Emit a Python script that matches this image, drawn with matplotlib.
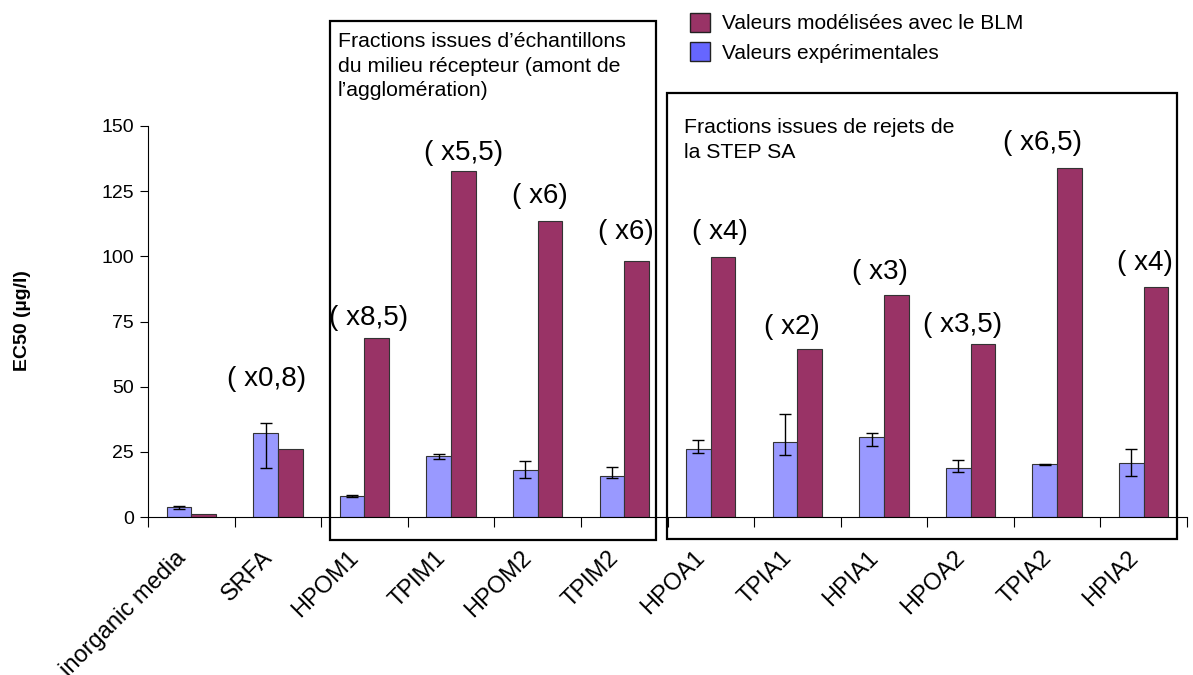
import matplotlib
matplotlib.use('Agg')
import matplotlib.pyplot as plt
from matplotlib.patches import Patch, Rectangle
from matplotlib.transforms import ScaledTranslation
import numpy as np

plt.rcParams['font.family'] = ['Liberation Sans', 'DejaVu Sans']

# data
categories = ['inorganic media', 'SRFA', 'HPOM1', 'TPIM1', 'HPOM2', 'TPIM2',
              'HPOA1', 'TPIA1', 'HPIA1', 'HPOA2', 'TPIA2', 'HPIA2']
experimental = [3.7, 32.1, 8.1, 23.3, 18.1, 15.9, 26.0, 28.6, 30.7, 18.7, 20.3, 20.8]
err_low = [0.7, 13.4, 0.3, 1.0, 3.0, 1.0, 1.3, 4.8, 3.3, 1.3, 0.2, 5.2]
err_high = [0.5, 3.9, 0.3, 0.7, 3.4, 3.1, 3.4, 10.8, 1.4, 3.3, 0.2, 5.2]
modelled = [1.1, 26.0, 68.5, 132.9, 113.7, 98.2, 99.6, 64.6, 85.3, 66.2, 133.9, 88.1]
ratio_labels = ['', '( x0,8)', '( x8,5)', '( x5,5)', '( x6)', '( x6)',
                '( x4)', '( x2)', '( x3)', '( x3,5)', '( x6,5)', '( x4)']

# label offsets in pixels (x from category centre, y above modelled bar)
label_dx = [0, -11, 4, 13, 2, 2, 9, -5, -4, -8, -15, 1]
label_dy = [0, 70, 20, 18, 25, 29, 25, 22, 23, 19, 25, 24]

blue = '#9999ff'
red = '#993366'
W, H = 1193, 675

fig = plt.figure(figsize=(W / 100, H / 100), dpi=100)
ax = fig.add_axes([148 / W, 1 - 517 / H, (1187 - 148) / W, (517 - 126) / H])

x = np.arange(len(categories))
bw = 0.285
ax.bar(x - bw / 2, experimental, bw, color=blue, edgecolor='#333333', linewidth=0.8, zorder=2)
ax.errorbar(x - bw / 2, experimental, yerr=[err_low, err_high], fmt='none',
            ecolor='black', elinewidth=1, capsize=4.5, capthick=1, zorder=3)
ax.bar(x + bw / 2, modelled, bw, color=red, edgecolor='#333333', linewidth=0.8, zorder=2)

for i, txt in enumerate(ratio_labels):
    if txt:
        ax.annotate(txt, (x[i], modelled[i]), xytext=(label_dx[i], label_dy[i]),
                    textcoords='offset pixels', ha='center', va='center', fontsize=20)

ax.set_xlim(-0.5, len(categories) - 0.5)
ax.set_ylim(0, 150)
ax.set_yticks(np.arange(0, 151, 25))
ax.tick_params(axis='y', labelsize=14, length=6, direction='out', pad=4)

ax.set_xticks(np.arange(-0.5, len(categories), 1))
ax.set_xticklabels([])
ax.tick_params(axis='x', which='major', length=7, direction='out')
ax.set_xticks(x, minor=True)
ax.set_xticklabels(categories, minor=True, rotation=45, ha='right',
                   rotation_mode='anchor', fontsize=17)
ax.tick_params(axis='x', which='minor', length=0, pad=27)
shift = ScaledTranslation(-9 / 100, 0, fig.dpi_scale_trans)
for lab in ax.get_xticklabels(minor=True):
    lab.set_va('center')
    lab.set_transform(lab.get_transform() + shift)

for s in ['top', 'right']:
    ax.spines[s].set_visible(False)
ax.spines['left'].set_linewidth(0.8)
ax.spines['bottom'].set_linewidth(0.8)

fig.text(23 / W, 1 - 321 / H, 'EC50 (µg/l)', rotation=90, ha='center', va='center',
         fontsize=14, fontweight='bold')

# framed groups
def frame(x0, y0, x1, y1):
    fig.add_artist(Rectangle((x0 / W, 1 - y1 / H), (x1 - x0) / W, (y1 - y0) / H,
                             transform=fig.transFigure, fill=False, lw=1.6,
                             edgecolor='black', zorder=5))

frame(330, 21, 656, 540)
frame(667, 93, 1177, 539)

fig.text(338 / W, 1 - 32 / H,
         'Fractions issues d’échantillons\ndu milieu récepteur (amont de\nl’agglomération)',
         ha='left', va='top', fontsize=15.3, linespacing=1.37)
fig.text(684 / W, 1 - 118 / H, 'Fractions issues de rejets de\nla STEP SA',
         ha='left', va='top', fontsize=15.3, linespacing=1.37)

handles = [Patch(facecolor=red, edgecolor='#222222', lw=1),
           Patch(facecolor='#6666ff', edgecolor='#222222', lw=1)]
fig.legend(handles, ['Valeurs modélisées avec le BLM', 'Valeurs expérimentales'],
           loc='upper left', bbox_to_anchor=(690 / W, 1 - 13 / H), frameon=False,
           fontsize=15, handlelength=0.96, handleheight=1.0, handletextpad=0.6,
           labelspacing=0.42, borderpad=0, borderaxespad=0)

fig.savefig('out.png', dpi=100)
